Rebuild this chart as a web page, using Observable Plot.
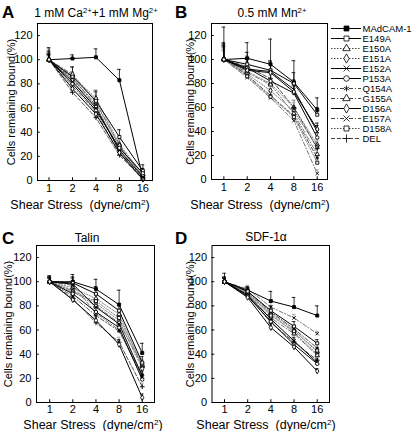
<!DOCTYPE html>
<html><head><meta charset="utf-8">
<script src="https://cdn.jsdelivr.net/npm/d3@7"></script>
<script src="https://cdn.jsdelivr.net/npm/@observablehq/plot@0.6"></script>
<style>
html,body{margin:0;padding:0;background:#fff;}
#c{position:relative;width:416px;height:431px;overflow:hidden;font-family:"Liberation Sans",Arial,sans-serif;color:#000;}
.t{position:absolute;white-space:nowrap;line-height:1;}
.p{position:absolute;}
sup{font-size:65%;vertical-align:0;position:relative;top:-0.55em;}
</style></head><body><div id="c"></div>
<script>
const shear = [1, 2, 4, 8, 16];
const yTicks = [0, 20, 40, 60, 80, 100, 120];
const seriesNames = ["MAdCAM-1","E149A","E150A","E151A","E152A","P153A","Q154A","G155A","D156A","E157A","D158A","DEL"];
const symbols = ["square","square","triangle","diamond","times","circle","asterisk","triangle","diamond","times","square","plus"];
const filled  = [true,false,false,false,false,false,false,false,false,false,false,false];
const dashes  = ["none","none","1.5,1.5","1.5,1.5","none","none","4,2,1,2","4,2,1,2","none","4,2,1,2","1.5,1.5","4,2"];
const lineColors = ["#000","#000","#888","#888","#000","#000","#555","#777","#000","#777","#888","#555"];

// Panel A: 1 mM Ca2+ + 1 mM Mg2+
const valuesA = [
 [100,101,102,83,2],[100,86,66,36,8],[100,87,68,30,5],[100,84,64,28,4],
 [100,82,60,25,3],[100,80,58,27,6],[100,85,62,24,2],[100,88,65,29,3],
 [100,76,55,23,1],[100,78,57,22,2],[100,83,61,26,4],[100,73,52,21,1]];
const errorsA = [
 [10,3,7,9,5],[5,8,8,6,5],[8,7,7,6,4],[6,6,6,5,4],[4,5,5,5,3],[7,6,6,4,4],
 [5,5,6,5,3],[9,6,8,5,4],[4,4,5,4,3],[6,5,5,4,3],[5,6,6,5,3],[3,4,5,4,2]];
// Panel B: 0.5 mM Mn2+
const valuesB = [
 [100,101,96,81,58],[100,96,91,80,54],[100,90,80,60,29],[100,88,74,57,27],
 [100,92,90,75,40],[100,93,82,72,35],[100,87,70,53,18],[100,89,79,55,21],
 [100,91,89,73,42],[100,85,68,49,5],[100,86,69,52,14],[100,94,84,60,26]];
const errorsB = [
 [27,13,21,18,10],[12,10,8,9,6],[10,8,7,6,4],[9,7,6,7,5],[14,9,8,8,5],[11,8,7,6,4],
 [8,7,6,5,4],[10,8,6,6,4],[13,9,8,7,5],[7,6,5,5,3],[8,6,5,5,3],[12,9,7,6,4]];
// Panel C: Talin
const valuesC = [
 [100,100,94,81,41],[100,99,90,76,33],[100,95,86,73,30],[100,93,82,68,28],
 [100,98,79,65,22],[100,90,75,62,19],[100,88,72,59,23],[100,92,80,66,31],
 [100,85,68,48,4],[100,97,74,60,21],[100,91,84,70,32],[100,86,66,50,13]];
const errorsC = [
 [5,6,8,12,8],[4,5,6,6,5],[3,4,5,5,4],[3,4,4,5,4],[4,5,5,5,4],[3,4,4,4,3],
 [3,4,4,4,3],[4,5,5,5,4],[3,3,4,4,3],[3,4,4,4,3],[4,5,5,5,4],[3,3,4,4,3]];
// Panel D: SDF-1alpha
const valuesD = [
 [100,93,84,79,72],[100,92,76,63,49],[100,91,74,60,42],[100,90,73,58,40],
 [100,89,69,51,33],[100,88,67,48,32],[100,92,75,61,45],[100,90,70,57,39],
 [100,87,62,46,26],[100,94,79,70,57],[100,91,72,59,43],[100,89,66,50,35]];
const errorsD = [
 [7,3,8,8,8],[4,3,4,4,3],[3,3,4,3,3],[3,3,3,3,3],[3,3,4,3,3],[3,3,3,3,3],
 [3,3,4,3,3],[3,3,4,3,3],[3,2,3,3,2],[4,3,4,3,2],[3,3,3,3,3],[3,2,3,3,2]];

const yLabel = "Cells remaining bound(%)";
const root = document.getElementById("c");
const FONT = '"Liberation Sans", Arial, sans-serif';

function panel(vals, errs, o) {
  const data = [];
  seriesNames.forEach((s, i) => shear.forEach((x, j) => data.push({s, i, x, v: vals[i][j], e: errs[i][j]})));
  const xDom = [2 ** (-o.padL), 2 ** (4 + o.padR)];
  const marks = [];
  const order = seriesNames.map((_, i) => i).sort((a, b) => (lineColors[a] === "#000") - (lineColors[b] === "#000"));
  order.forEach(i => {
    const d = data.filter(r => r.i === i);
    const ec = lineColors[i] === "#000" ? "#000" : "#999";
    marks.push(Plot.ruleX(d, {x: "x", y1: "v", y2: r => r.v + r.e, stroke: ec, strokeWidth: 0.8}));
    marks.push(Plot.ruleY(d, {y: r => r.v + r.e, x1: r => r.x * 2 ** -0.08, x2: r => r.x * 2 ** 0.08, stroke: ec, strokeWidth: 0.8}));
  });
  order.forEach(i => {
    const d = data.filter(r => r.i === i);
    marks.push(Plot.line(d, {x: "x", y: "v", stroke: lineColors[i], strokeWidth: 1, strokeDasharray: dashes[i]}));
  });
  order.forEach(i => {
    const d = data.filter(r => r.i === i);
    const openSym = ["times","plus","asterisk"].includes(symbols[i]);
    marks.push(Plot.dot(d, {x: "x", y: "v", symbol: symbols[i], r: 1.7,
      fill: filled[i] ? "#000" : (openSym ? "none" : "#fff"), stroke: "#000", strokeWidth: 0.9}));
  });
  marks.push(Plot.ruleY(yTicks, {y: d => d, x1: xDom[0], x2: xDom[0] * 2 ** 0.12, stroke: "#000"}));
  marks.push(Plot.ruleX(shear, {x: d => d, y1: 0, y2: 2.3, stroke: "#000"}));
  marks.push(Plot.frame({stroke: "#000", strokeWidth: 1}));
  marks.push(Plot.axisY({ticks: yTicks, tickSize: 0, tickPadding: 5, label: yLabel, labelAnchor: "center", labelArrow: "none", labelOffset: o.labelOffset, fontSize: 11}));
  marks.push(Plot.axisX({ticks: shear, tickFormat: d => String(d), tickSize: 0, tickPadding: o.xPad, label: null, fontSize: 11}));
  const svg = Plot.plot({
    width: o.width, height: o.height,
    marginLeft: o.mL, marginRight: o.mR, marginTop: o.mT, marginBottom: o.mB,
    x: {type: "log", base: 2, domain: xDom},
    y: {domain: [0, 130]},
    style: {fontFamily: FONT, fontSize: "11px", color: "#000", background: "transparent", overflow: "visible"},
    marks
  });
  const wrap = document.createElement("div");
  wrap.className = "p";
  wrap.style.left = o.left + "px"; wrap.style.top = o.top + "px";
  wrap.appendChild(svg);
  root.appendChild(wrap);
}

panel(valuesA, errorsA, {left: 0, top: 0, width: 176, height: 200, mL: 37, mR: 24, mT: 23, mB: 20, padL: 0.49, padR: 0.41, labelOffset: 30, xPad: 4});
panel(valuesB, errorsB, {left: 176, top: 0, width: 240, height: 200, mL: 35, mR: 89, mT: 23, mB: 21, padL: 0.53, padR: 0.44, labelOffset: 25, xPad: 4});
panel(valuesC, errorsC, {left: 0, top: 220, width: 176, height: 200, mL: 36, mR: 22, mT: 25, mB: 18, padL: 0.57, padR: 0.53, labelOffset: 32, xPad: 3});
panel(valuesD, errorsD, {left: 176, top: 220, width: 240, height: 200, mL: 35.5, mR: 87, mT: 25, mB: 18, padL: 0.54, padR: 0.53, labelOffset: 25.5, xPad: 3});

// Legend
(function () {
  const marks = [];
  seriesNames.forEach((s, i) => {
    marks.push(Plot.ruleY([s], {y: d => d, x1: 0, x2: 1, stroke: lineColors[i] === "#000" ? "#000" : "#444", strokeWidth: 1, strokeDasharray: dashes[i]}));
    const openSym = ["times","plus","asterisk"].includes(symbols[i]);
    marks.push(Plot.dot([s], {y: d => d, x: 0.5, symbol: symbols[i], r: 2.8,
      fill: filled[i] ? "#000" : (openSym ? "none" : "#fff"), stroke: "#000", strokeWidth: 0.8}));
    marks.push(Plot.text([s], {y: d => d, x: 1, text: d => d, textAnchor: "start", dx: 1, fontSize: 9.5}));
  });
  const svg = Plot.plot({
    width: 96, height: 140, marginLeft: 11, marginRight: 55, marginTop: 10, marginBottom: 15,
    x: {domain: [0, 1], axis: null},
    y: {type: "point", domain: seriesNames, padding: 0, axis: null},
    style: {fontFamily: FONT, color: "#000", background: "transparent", overflow: "visible"},
    marks
  });
  const wrap = document.createElement("div");
  wrap.className = "p"; wrap.style.left = "320px"; wrap.style.top = "15px";
  wrap.appendChild(svg); root.appendChild(wrap);
})();

// Text: panel letters, titles, x labels
function txt(html, x, y, css, anchor) {
  const d = document.createElement("div");
  d.className = "t"; d.innerHTML = html;
  d.style.cssText += css;
  d.style.left = x + "px"; d.style.top = y + "px";
  if (anchor === "middle") d.style.transform = "translateX(-50%)";
  root.appendChild(d);
}
const letterCss = "font-size:17px;font-weight:bold;";
txt("A", 2, 4, letterCss);
txt("B", 175, 4, letterCss);
txt("C", 2, 230, letterCss);
txt("D", 175, 230, letterCss);
const titleCss = "font-size:12px;";
txt("1 mM Ca<sup>2+</sup>+1 mM Mg<sup>2+</sup>", 96, 7, titleCss, "middle");
txt("0.5 mM Mn<sup>2+</sup>", 272, 7, titleCss, "middle");
txt("Talin", 87, 232, titleCss, "middle");
txt("SDF-1\u03b1", 266, 231, titleCss, "middle");
const xl = "Shear Stress&nbsp;&nbsp;(dyne/cm<sup>2</sup>)";
const xlCss = "font-size:12.5px;";
txt(xl, 80, 199, xlCss, "middle");
txt(xl, 260, 199, xlCss, "middle");
txt(xl, 93, 419, xlCss, "middle");
txt(xl, 266, 419, xlCss, "middle");
</script></body></html>
